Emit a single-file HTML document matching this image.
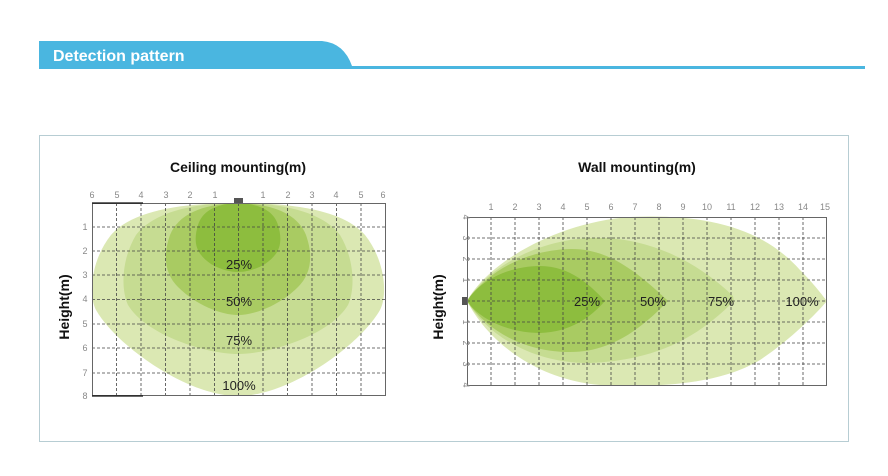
<!DOCTYPE html>
<html><head><meta charset="utf-8"><style>
html,body{margin:0;padding:0;background:#fff;width:888px;height:476px;overflow:hidden}
svg text{font-family:"Liberation Sans","DejaVu Sans",sans-serif}
</style></head><body>
<svg width="888" height="476" viewBox="0 0 888 476" xmlns="http://www.w3.org/2000/svg">
<path d="M39 41 H322 Q344 43 352 66 H865 V69 H39 Z" fill="#4ab6e0"/>
<text x="53" y="61" font-size="16" font-weight="bold" fill="#fff">Detection pattern</text>
<rect x="39.5" y="135.5" width="809" height="306" fill="none" stroke="#b7cdd3" stroke-width="1"/>
<text x="238" y="172" font-size="14" font-weight="bold" text-anchor="middle" fill="#111">Ceiling mounting(m)</text>
<text x="637" y="172" font-size="14" font-weight="bold" text-anchor="middle" fill="#111">Wall mounting(m)</text>
<text transform="translate(69,307) rotate(-90)" font-size="14" font-weight="bold" text-anchor="middle" fill="#111">Height(m)</text>
<text transform="translate(443,307) rotate(-90)" font-size="14" font-weight="bold" text-anchor="middle" fill="#111">Height(m)</text>

<g>
<path d="M238 203 C300 203 345 212 365 235 C385 260 388 295 380 310 C360 345 290 396 238 396 C186 396 116 345 96 310 C88 295 91 260 111 235 C131 212 176 203 238 203 Z" fill="#dbe8b3"/>
<path d="M238 203 C290 203 325 215 340 235 C355 260 355 290 348 305 C330 335 270 354 238 354 C206 354 146 335 128 305 C121 290 121 260 136 235 C151 215 186 203 238 203 Z" fill="#c6dc92"/>
<path d="M238 203 C275 204 298 215 306 235 C314 258 310 275 298 287 C280 305 255 315 238 315 C221 315 196 305 178 287 C166 275 162 258 170 235 C178 215 201 204 238 203 Z" fill="#a9cb62"/>
<path d="M238 203 C262 204 274 212 278 225 C284 245 278 255 265 264 C255 270 245 272 238 272 C231 272 221 270 211 264 C198 255 192 245 198 225 C202 212 214 204 238 203 Z" fill="#8dbd3e"/>
<g stroke="#444" stroke-width="0.8" stroke-dasharray="3,2" fill="none">
<line x1="116.5" y1="203" x2="116.5" y2="396"/><line x1="141" y1="203" x2="141" y2="396"/><line x1="165.5" y1="203" x2="165.5" y2="396"/><line x1="190" y1="203" x2="190" y2="396"/><line x1="214.5" y1="203" x2="214.5" y2="396"/><line x1="238.5" y1="203" x2="238.5" y2="396"/><line x1="263" y1="203" x2="263" y2="396"/><line x1="287.5" y1="203" x2="287.5" y2="396"/><line x1="312" y1="203" x2="312" y2="396"/><line x1="336.5" y1="203" x2="336.5" y2="396"/><line x1="361" y1="203" x2="361" y2="396"/>
<line x1="92" y1="227" x2="386" y2="227"/><line x1="92" y1="251" x2="386" y2="251"/><line x1="92" y1="275" x2="386" y2="275"/><line x1="92" y1="299.5" x2="386" y2="299.5"/><line x1="92" y1="324" x2="386" y2="324"/><line x1="92" y1="348" x2="386" y2="348"/><line x1="92" y1="373" x2="386" y2="373"/>
</g>
<rect x="92.5" y="203.5" width="293" height="192" fill="none" stroke="#666" stroke-width="1"/>
<line x1="92" y1="203" x2="143" y2="203" stroke="#111" stroke-width="1.2"/>
<line x1="92" y1="396" x2="143" y2="396" stroke="#111" stroke-width="1.2"/>
<rect x="234" y="198" width="9" height="5" fill="#555"/>
<g font-size="9" fill="#888" text-anchor="middle">
<text x="92" y="198">6</text><text x="117" y="198">5</text><text x="141" y="198">4</text><text x="166" y="198">3</text><text x="190" y="198">2</text><text x="215" y="198">1</text><text x="263" y="198">1</text><text x="288" y="198">2</text><text x="312" y="198">3</text><text x="336" y="198">4</text><text x="361" y="198">5</text><text x="383" y="198">6</text>
<text x="85" y="230">1</text><text x="85" y="254">2</text><text x="85" y="278">3</text><text x="85" y="302">4</text><text x="85" y="327">5</text><text x="85" y="351">6</text><text x="85" y="376">7</text><text x="85" y="399">8</text>
</g>
<g font-size="13" fill="#222" text-anchor="middle">
<text x="239" y="269">25%</text><text x="239" y="306">50%</text><text x="239" y="345">75%</text><text x="239" y="390">100%</text>
</g>
</g>

<g>
<path d="M467 301 C490 260 560 222 630 217 C700 214 760 225 800 270 C815 285 822 295 827 301 C815 315 790 340 760 360 C720 384 660 388 600 385 C540 380 490 345 467 301 Z" fill="#dbe8b3"/>
<path d="M467 301 C490 265 540 240 590 238 C640 236 690 255 733 296 L734 301 C700 335 660 360 590 363 C540 364 490 340 467 301 Z" fill="#c6dc92"/>
<path d="M467 301 C490 268 530 250 570 249 C610 248 640 275 668 301 C640 330 610 352 570 352 C530 352 490 335 467 301 Z" fill="#a9cb62"/>
<path d="M467 301 C480 280 510 266 540 266 C570 266 590 285 605 301 C590 318 570 332 540 333 C510 333 480 320 467 301 Z" fill="#8dbd3e"/>
<g stroke="#444" stroke-width="0.8" stroke-dasharray="3,2" fill="none">
<line x1="491" y1="217" x2="491" y2="386"/><line x1="515" y1="217" x2="515" y2="386"/><line x1="539" y1="217" x2="539" y2="386"/><line x1="563" y1="217" x2="563" y2="386"/><line x1="587" y1="217" x2="587" y2="386"/><line x1="611" y1="217" x2="611" y2="386"/><line x1="635" y1="217" x2="635" y2="386"/><line x1="659" y1="217" x2="659" y2="386"/><line x1="683" y1="217" x2="683" y2="386"/><line x1="707" y1="217" x2="707" y2="386"/><line x1="731" y1="217" x2="731" y2="386"/><line x1="755" y1="217" x2="755" y2="386"/><line x1="779" y1="217" x2="779" y2="386"/><line x1="803" y1="217" x2="803" y2="386"/>
<line x1="467" y1="238" x2="827" y2="238"/><line x1="467" y1="259" x2="827" y2="259"/><line x1="467" y1="280" x2="827" y2="280"/><line x1="467" y1="301" x2="827" y2="301"/><line x1="467" y1="322" x2="827" y2="322"/><line x1="467" y1="343" x2="827" y2="343"/><line x1="467" y1="364" x2="827" y2="364"/>
</g>
<rect x="467.5" y="217.5" width="359" height="168" fill="none" stroke="#666" stroke-width="1"/>
<rect x="462" y="297" width="5" height="8" fill="#555"/>
<g font-size="9" fill="#888" text-anchor="middle">
<text x="491" y="210">1</text><text x="515" y="210">2</text><text x="539" y="210">3</text><text x="563" y="210">4</text><text x="587" y="210">5</text><text x="611" y="210">6</text><text x="635" y="210">7</text><text x="659" y="210">8</text><text x="683" y="210">9</text><text x="707" y="210">10</text><text x="731" y="210">11</text><text x="755" y="210">12</text><text x="779" y="210">13</text><text x="803" y="210">14</text><text x="825" y="210">15</text>
</g>
<g font-size="9" fill="#888" text-anchor="middle">
<text transform="translate(463,217) rotate(90)">4</text><text transform="translate(463,238) rotate(90)">3</text><text transform="translate(463,259) rotate(90)">2</text><text transform="translate(463,280) rotate(90)">1</text>
<text transform="translate(463,322) rotate(90)">1</text><text transform="translate(463,343) rotate(90)">2</text><text transform="translate(463,364) rotate(90)">3</text><text transform="translate(463,385) rotate(90)">4</text>
</g>
<g font-size="13" fill="#222" text-anchor="middle">
<text x="587" y="306">25%</text><text x="653" y="306">50%</text><text x="721" y="306">75%</text><text x="802" y="306">100%</text>
</g>
</g>
</svg>
</body></html>
